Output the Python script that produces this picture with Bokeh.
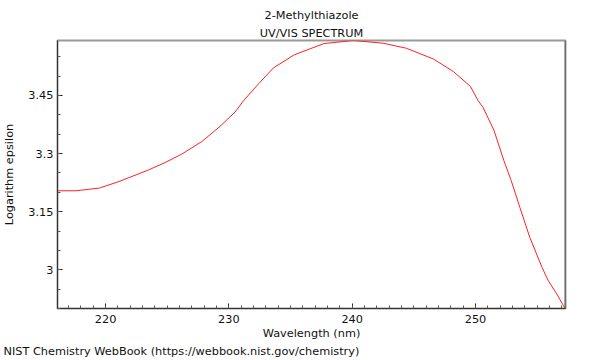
from bokeh.plotting import figure
from bokeh.models import Range1d, SingleIntervalTicker, CustomJSTickFormatter, Span, Title
from bokeh.embed import file_html
from bokeh.resources import INLINE

# Data
wavelength = [216.1, 217.6, 219.5, 221.1, 223.5, 224.9, 226.2, 227.8, 229.2, 230.5,
              231.2, 232.4, 233.6, 235.3, 237.7, 240.1, 242.5, 244.4, 246.6, 248.2,
              249.6, 250.2, 250.6, 251.5, 252.3, 252.9, 253.6, 254.4, 255.4, 255.9,
              256.6, 257.3]
log_epsilon = [3.204, 3.204, 3.211, 3.228, 3.258, 3.278, 3.299, 3.331, 3.368, 3.407,
               3.437, 3.480, 3.521, 3.555, 3.584, 3.592, 3.585, 3.572, 3.544, 3.512,
               3.473, 3.437, 3.420, 3.360, 3.282, 3.230, 3.161, 3.084, 3.006, 2.972,
               2.937, 2.898]

x_min, x_max = 216.1, 257.3
y_min, y_max = 2.9, 3.592

title_1 = "2-Methylthiazole"
title_2 = "UV/VIS SPECTRUM"
x_label = "Wavelength (nm)"
y_label = "Logarithm epsilon"
footer = "NIST Chemistry WebBook (https://webbook.nist.gov/chemistry)"

FONT = "DejaVu Sans"
FS = "11.3px"

p = figure(width=600, height=360, output_backend="svg", toolbar_location=None,
           x_range=Range1d(x_min, x_max), y_range=Range1d(y_min, y_max),
           min_border_left=57, min_border_right=35, min_border_top=40,
           min_border_bottom=52)
p.title.visible = False
p.background_fill_color = "white"
p.border_fill_color = "white"
p.grid.visible = False
p.outline_line_color = "#999999"
p.outline_line_width = 2

p.line(wavelength, log_epsilon, line_color="#ff2020", line_width=1)

# axes
p.xaxis.ticker = SingleIntervalTicker(interval=10, num_minor_ticks=10)
p.yaxis.ticker = SingleIntervalTicker(interval=0.15, num_minor_ticks=3)
p.yaxis.formatter = CustomJSTickFormatter(code="return String(Math.round(tick*100)/100)")

for ax in (p.xaxis[0], p.yaxis[0]):
    ax.axis_line_color = "#333333"
    ax.axis_line_width = 1
    ax.major_tick_in = 5
    ax.major_tick_out = 0
    ax.minor_tick_in = 3
    ax.minor_tick_out = 0
    ax.major_tick_line_color = "#222222"
    ax.minor_tick_line_color = "#555555"
    ax.major_label_text_font = FONT
    ax.major_label_text_font_size = FS
    ax.major_label_text_color = "#111111"
    ax.axis_label_text_font = FONT
    ax.axis_label_text_font_size = FS
    ax.axis_label_text_font_style = "normal"
    ax.axis_label_text_color = "#111111"

p.xaxis.major_label_standoff = 6
p.xaxis.axis_label_standoff = 1
p.yaxis.major_label_standoff = 4
p.yaxis.axis_label_standoff = 9

p.xaxis.axis_label = x_label
p.yaxis.axis_label = y_label

# right border
p.add_layout(Span(location=x_max, dimension="height", line_color="#444444", line_width=1.5))

# titles (nearest frame first) and footer
p.add_layout(Title(text=title_2, align="center", text_font=FONT, text_font_size=FS,
                   text_font_style="normal", text_color="#111111", standoff=1), "above")
p.add_layout(Title(text=title_1, align="center", text_font=FONT, text_font_size=FS,
                   text_font_style="normal", text_color="#111111", standoff=5), "above")
p.add_layout(Title(text=footer, align="left", offset=-54, text_font=FONT,
                   text_font_size=FS, text_font_style="normal",
                   text_color="#111111", standoff=1), "below")

open("out.html", "w").write(file_html(p, INLINE))
